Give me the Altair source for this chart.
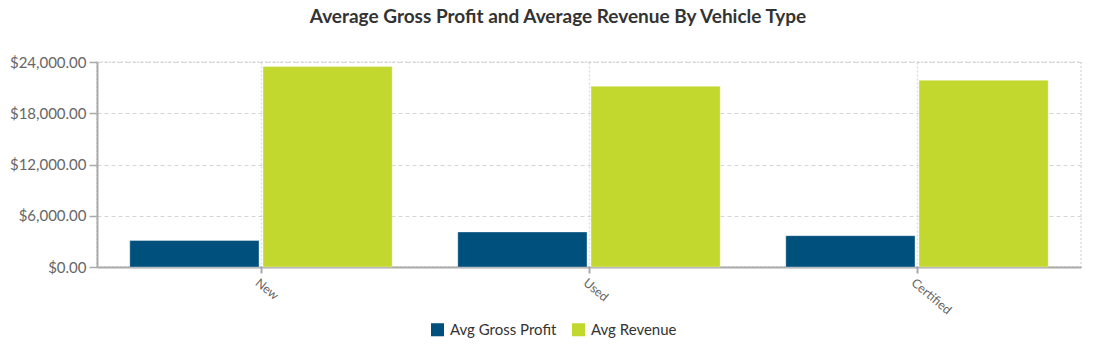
import altair as alt
import pandas as pd

vehicle_types = ["New", "Used", "Certified"]
series_names = ["Avg Gross Profit", "Avg Revenue"]
avg_gross_profit = [3100, 4100, 3670]
avg_revenue = [23460, 21170, 21870]
series_colors = ["#00507D", "#C2D82F"]
y_ticks = [0, 6000, 12000, 18000, 24000]

rows = []
for i, t in enumerate(vehicle_types):
    rows.append({"type": t, "series": series_names[0], "value": avg_gross_profit[i]})
    rows.append({"type": t, "series": series_names[1], "value": avg_revenue[i]})
df = pd.DataFrame(rows)

FONT = "Lato"

chart = alt.Chart(df).mark_bar(
    stroke="white", strokeOpacity=0.35, strokeWidth=1
).encode(
    x=alt.X(
        "type:N", sort=vehicle_types, title=None,
        scale=alt.Scale(paddingInner=0.2, paddingOuter=0.1),
        axis=alt.Axis(
            labelAngle=40, labelAlign="left", labelBaseline="top",
            labelFontSize=12.5, labelColor="#666666", labelFont=FONT, labelPadding=3,
            bandPosition=0.5, grid=True, gridDash=[2, 2], gridColor="#dddddd",
            gridWidth=1.5, domainColor="#aaaaaa", domainWidth=2,
            tickColor="#aaaaaa", tickSize=6, tickWidth=2,
        ),
    ),
    xOffset=alt.XOffset("series:N", sort=series_names,
                        scale=alt.Scale(paddingInner=0.03)),
    y=alt.Y(
        "value:Q", title=None,
        scale=alt.Scale(domain=[0, 24000]),
        axis=alt.Axis(
            values=y_ticks, format="$,.2f", labelFontSize=15,
            labelColor="#666666", labelFont=FONT, labelPadding=3,
            grid=True, gridDash=[4, 3], gridColor="#d5d5d5",
            domainColor="#aaaaaa", domainWidth=2,
            tickColor="#aaaaaa", tickSize=8, tickWidth=1.5,
        ),
    ),
    color=alt.Color(
        "series:N", sort=series_names,
        scale=alt.Scale(domain=series_names, range=series_colors),
        legend=alt.Legend(
            orient="none", legendX=333, legendY=260, direction="horizontal",
            title=None, symbolType="square", symbolSize=170,
            symbolStrokeWidth=0, labelFont=FONT, labelFontSize=15,
            labelColor="#333333", columnPadding=14, labelOffset=5,
        ),
    ),
).properties(
    width=984,
    height=205,
    title=alt.TitleParams(
        "Average Gross Profit and Average Revenue By Vehicle Type",
        font=FONT, fontSize=19, fontWeight="bold", color="#333333",
        anchor="middle", frame="group", dx=-31, offset=28,
    ),
    autosize="none",
    padding={"left": 97, "top": 62, "right": 18, "bottom": 86},
).configure_view(
    stroke="#dddddd", strokeDash=[2, 2], strokeWidth=1.5
)

chart.save("out.html", embed_options={"renderer": "svg", "actions": False})
